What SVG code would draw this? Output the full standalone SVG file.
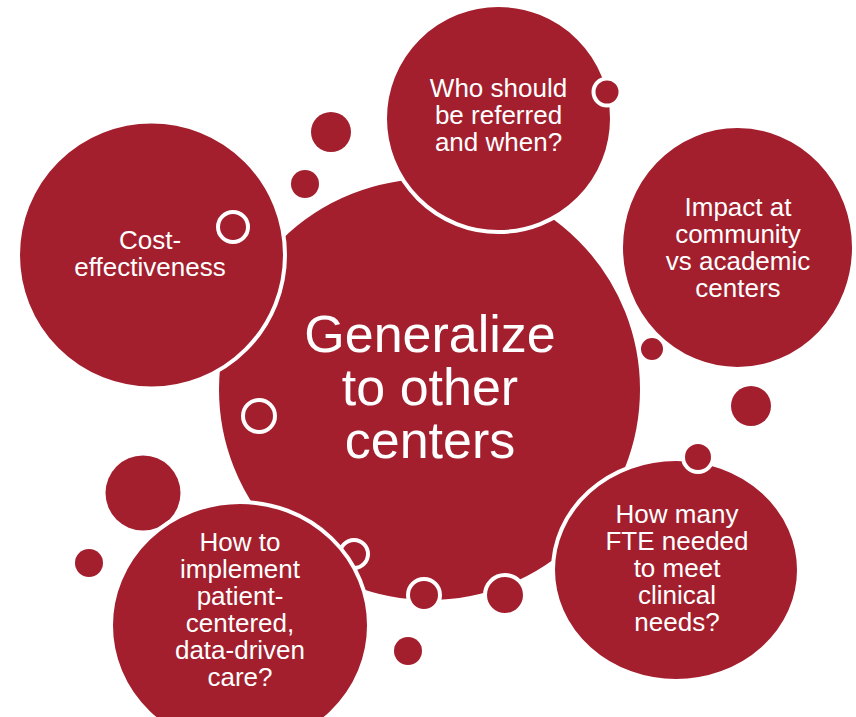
<svg xmlns="http://www.w3.org/2000/svg" width="856" height="717" viewBox="0 0 856 717">
  <style>
    .bubble { fill: #A31F2E; stroke: #FFFFFF; stroke-width: 4; }
    .dot { fill: #A31F2E; stroke: #FFFFFF; stroke-width: 4; }
    .plain { fill: #A31F2E; }
    .lbl { font-family: "Liberation Sans", Arial, sans-serif; fill: #FFFFFF; text-anchor: middle; font-size: 26px; }
    .big { font-size: 52px; }
  </style>
  <rect width="856" height="717" fill="#FFFFFF"/>

  <!-- central topic -->
  <g id="center">
    <circle class="bubble" cx="429.5" cy="389.5" r="212.5"/>
    <circle class="dot" cx="259" cy="416" r="16"/>
    <circle class="dot" cx="652" cy="349" r="13"/>
    <circle class="dot" cx="424" cy="595" r="16"/>
    <circle class="dot" cx="505" cy="595" r="20"/>
    <circle class="dot" cx="354" cy="554" r="14"/>
    <text class="lbl big" x="430" y="352">Generalize</text>
    <text class="lbl big" x="430" y="405">to other</text>
    <text class="lbl big" x="430" y="458">centers</text>
  </g>

  <!-- decorative free dots -->
  <g id="dots">
    <circle class="plain" cx="331" cy="132" r="20"/>
    <circle class="plain" cx="305" cy="184" r="14"/>
    <circle class="plain" cx="751" cy="406" r="20"/>
    <circle class="plain" cx="143" cy="493" r="37.5"/>
    <circle class="plain" cx="89" cy="563" r="14"/>
    <circle class="plain" cx="408" cy="651" r="14"/>
  </g>

  <g id="cost">
    <circle class="bubble" cx="151.5" cy="255" r="133.5"/>
    <circle class="dot" cx="233" cy="227" r="15"/>
    <text class="lbl" x="150" y="249">Cost-</text>
    <text class="lbl" x="150" y="276">effectiveness</text>
  </g>

  <g id="referral">
    <circle class="bubble" cx="498.5" cy="118.5" r="113.5"/>
    <circle class="dot" cx="607" cy="92" r="13.5"/>
    <text class="lbl" x="498.5" y="97">Who should</text>
    <text class="lbl" x="498.5" y="124">be referred</text>
    <text class="lbl" x="498.5" y="151">and when?</text>
  </g>

  <g id="impact">
    <ellipse class="bubble" cx="737.5" cy="247.5" rx="116.5" ry="121.5"/>
    <text class="lbl" x="738" y="216">Impact at</text>
    <text class="lbl" x="738" y="243">community</text>
    <text class="lbl" x="738" y="270">vs academic</text>
    <text class="lbl" x="738" y="297">centers</text>
  </g>

  <g id="fte">
    <ellipse class="bubble" cx="676" cy="570" rx="123" ry="111"/>
    <circle class="dot" cx="698" cy="457" r="15"/>
    <text class="lbl" x="677" y="523">How many</text>
    <text class="lbl" x="677" y="550">FTE needed</text>
    <text class="lbl" x="677" y="577">to meet</text>
    <text class="lbl" x="677" y="604">clinical</text>
    <text class="lbl" x="677" y="631">needs?</text>
  </g>

  <g id="implement">
    <ellipse class="bubble" cx="240" cy="625.5" rx="129" ry="123.5"/>
    <text class="lbl" x="240" y="551">How to</text>
    <text class="lbl" x="240" y="578">implement</text>
    <text class="lbl" x="240" y="605">patient-</text>
    <text class="lbl" x="240" y="632">centered,</text>
    <text class="lbl" x="240" y="659">data-driven</text>
    <text class="lbl" x="240" y="686">care?</text>
  </g>
</svg>
